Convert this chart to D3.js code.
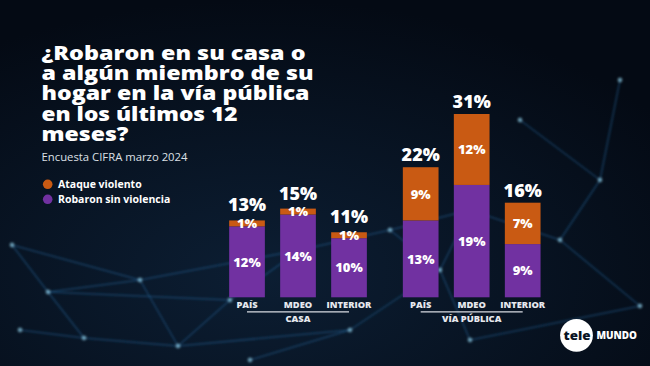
<!DOCTYPE html>
<html><head><meta charset="utf-8">
<script src="https://cdn.jsdelivr.net/npm/d3@7"></script>
<style>
html,body{margin:0;padding:0;background:#050c18;overflow:hidden;}
svg{display:block;}
</style></head>
<body>
<svg id="chart" width="650" height="366"></svg>
<script>
// ---- data ----
const groups = ["CASA", "VÍA PÚBLICA"];
const places = ["PAÍS", "MDEO", "INTERIOR"];
const sinViolencia = { "CASA": [12, 14, 10], "VÍA PÚBLICA": [13, 19, 9] };
const ataqueViolento = { "CASA": [1, 1, 1], "VÍA PÚBLICA": [9, 12, 7] };
const totals = { "CASA": [13, 15, 11], "VÍA PÚBLICA": [22, 31, 16] };
const seriesNames = ["Ataque violento", "Robaron sin violencia"];
const titleLines = ["¿Robaron en su casa o", "a algún miembro de su", "hogar en la vía pública", "en los últimos 12", "meses?"];
const subtitle = "Encuesta CIFRA marzo 2024";

const ORANGE = "#c95a13", PURPLE = "#7131a1";
const svg = d3.select("#chart");
const W = 650, H = 366;

// ---- background ----
const defs = svg.append("defs");
const rg = defs.append("radialGradient").attr("id", "bg").attr("cx", "40%").attr("cy", "75%").attr("r", "75%");
rg.append("stop").attr("offset", "0%").attr("stop-color", "#0c1e33");
rg.append("stop").attr("offset", "100%").attr("stop-color", "#040a14");
const blur = defs.append("filter").attr("id", "blur").attr("x", "-50%").attr("y", "-50%").attr("width", "200%").attr("height", "200%");
blur.append("feGaussianBlur").attr("stdDeviation", 1.1);
svg.append("rect").attr("width", W).attr("height", H).attr("fill", "url(#bg)");

// decorative network (background texture only)
const nodes = [[12,245],[48,292],[84,338],[178,346],[230,300],[300,250],[390,230],[470,210],[560,240],[640,306],[600,180],[520,120],[440,270],[350,330],[140,280],[20,330],[620,80],[250,360],[470,340]];
const links = [[0,1],[1,2],[2,3],[3,4],[1,4],[4,5],[5,6],[6,7],[7,8],[8,9],[8,10],[10,11],[7,12],[12,13],[13,3],[1,14],[14,3],[0,14],[15,2],[10,16],[13,17],[12,18],[9,18],[6,12],[5,14]];
const net = svg.append("g").attr("filter", "url(#blur)");
net.selectAll("line").data(links).join("line")
  .attr("x1", d => nodes[d[0]][0]).attr("y1", d => nodes[d[0]][1])
  .attr("x2", d => nodes[d[1]][0]).attr("y2", d => nodes[d[1]][1])
  .attr("stroke", "#2b74b0").attr("stroke-opacity", 0.4).attr("stroke-width", 1.5);
net.selectAll("circle").data(nodes).join("circle")
  .attr("cx", d => d[0]).attr("cy", d => d[1]).attr("r", 2.4)
  .attr("fill", "#9adcf5").attr("fill-opacity", 0.6);

// ---- title ----
const titleFont = "'Open Sans', 'Noto Sans', sans-serif";
const titleTargets = [264, 272, 268, 196, 87];
const tg = svg.append("g");
titleLines.forEach((t, i) => {
  tg.append("text").attr("x", 41.5).attr("y", 60 + i * 20.2)
    .attr("fill", "#ffffff").attr("font-family", titleFont).attr("font-weight", 800)
    .attr("font-size", 19).attr("textLength", titleTargets[i]).attr("lengthAdjust", "spacingAndGlyphs")
    .text(t);
});
svg.append("text").attr("x", 41.5).attr("y", 161).attr("fill", "#dde0e6")
  .attr("font-family", "'Open Sans', sans-serif").attr("font-size", 11).attr("textLength", 146).attr("lengthAdjust", "spacingAndGlyphs")
  .text(subtitle);

// ---- legend ----
const colors = [ORANGE, PURPLE];
const lg = svg.append("g");
seriesNames.forEach((s, i) => {
  lg.append("circle").attr("cx", 47.7).attr("cy", 184.3 + i * 15).attr("r", 4.8).attr("fill", colors[i]);
  lg.append("text").attr("x", 58).attr("y", 184.3 + i * 15).attr("dy", "0.35em")
    .attr("fill", "#ffffff").attr("font-family", titleFont).attr("font-weight", 700).attr("font-size", 10.5)
    .text(s);
});

// ---- scales ----
const y = d3.scaleLinear().domain([0, 31]).range([297.3, 114]);
const x0 = d3.scaleBand().domain(groups).range([221.5, 548.2]).paddingInner(0.119).paddingOuter(0);
const x1 = d3.scaleBand().domain(places).range([0, x0.bandwidth()]).paddingInner(0.3).paddingOuter(0.15);

const labelOffset = { "CASA": 9, "VÍA PÚBLICA": 6 };

groups.forEach(g => {
  const gg = svg.append("g").attr("transform", `translate(${x0(g)},0)`);
  const rows = places.map((p, i) => ({ p, sin: sinViolencia[g][i], ata: ataqueViolento[g][i], tot: totals[g][i] }));
  const bw = x1.bandwidth();
  gg.selectAll("rect.sin").data(rows).join("rect").attr("class", "sin")
    .attr("x", d => x1(d.p)).attr("width", bw)
    .attr("y", d => y(d.sin)).attr("height", d => y(0) - y(d.sin)).attr("fill", PURPLE);
  gg.selectAll("rect.ata").data(rows).join("rect").attr("class", "ata")
    .attr("x", d => x1(d.p)).attr("width", bw)
    .attr("y", d => y(d.sin + d.ata)).attr("height", d => y(d.sin) - y(d.sin + d.ata)).attr("fill", ORANGE);
  const fnt = "'Open Sans', sans-serif";
  gg.selectAll("text.sinl").data(rows).join("text")
    .attr("x", d => x1(d.p) + bw / 2).attr("y", d => (y(0) + y(d.sin)) / 2).attr("dy", "0.36em")
    .attr("text-anchor", "middle").attr("fill", "#fff").attr("font-family", fnt).attr("font-weight", 800).attr("font-size", 13)
    .text(d => d.sin + "%");
  gg.selectAll("text.atal").data(rows).join("text")
    .attr("x", d => x1(d.p) + bw / 2).attr("y", d => (y(d.sin) + y(d.sin + d.ata)) / 2).attr("dy", "0.36em")
    .attr("text-anchor", "middle").attr("fill", "#fff").attr("font-family", fnt).attr("font-weight", 800).attr("font-size", 13)
    .text(d => d.ata + "%");
  gg.selectAll("text.tot").data(rows).join("text")
    .attr("x", d => x1(d.p) + bw / 2).attr("y", d => y(d.tot) - labelOffset[g])
    .attr("text-anchor", "middle").attr("fill", "#fff").attr("font-family", fnt).attr("font-weight", 800).attr("font-size", 18)
    .text(d => d.tot + "%");
  gg.selectAll("text.cat").data(rows).join("text")
    .attr("x", d => x1(d.p) + bw / 2).attr("y", 307.8)
    .attr("text-anchor", "middle").attr("fill", "#e6e8ee").attr("font-family", fnt).attr("font-weight", 800).attr("font-size", 9.3)
    .text(d => d.p);
  const c0 = x1(places[0]) + bw / 2, c2 = x1(places[places.length - 1]) + bw / 2;
  gg.append("line").attr("x1", c0).attr("x2", c2).attr("y1", 311.8).attr("y2", 311.8)
    .attr("stroke", "#d8dbe2").attr("stroke-width", 1.3);
  gg.append("text").attr("x", (c0 + c2) / 2).attr("y", 322.4).attr("text-anchor", "middle")
    .attr("fill", "#e6e8ee").attr("font-family", fnt).attr("font-weight", 800).attr("font-size", 9.3).text(g);
});

// ---- logo ----
const logo = svg.append("g");
logo.append("circle").attr("cx", 576.5).attr("cy", 335.3).attr("r", 16.4).attr("fill", "#ffffff");
logo.append("text").attr("x", 577).attr("y", 335.3).attr("dy", "0.35em").attr("text-anchor", "middle")
  .attr("fill", "#0a1424").attr("font-family", "'Open Sans', sans-serif").attr("font-weight", 800).attr("font-size", 12.5)
  .attr("textLength", 27).attr("lengthAdjust", "spacingAndGlyphs").text("tele");
logo.append("text").attr("x", 596.5).attr("y", 335.3).attr("dy", "0.35em")
  .attr("fill", "#ffffff").attr("font-family", "'Open Sans', sans-serif").attr("font-weight", 800).attr("font-size", 10)
  .attr("textLength", 40.5).attr("lengthAdjust", "spacingAndGlyphs").text("MUNDO");
</script>
</body></html>
